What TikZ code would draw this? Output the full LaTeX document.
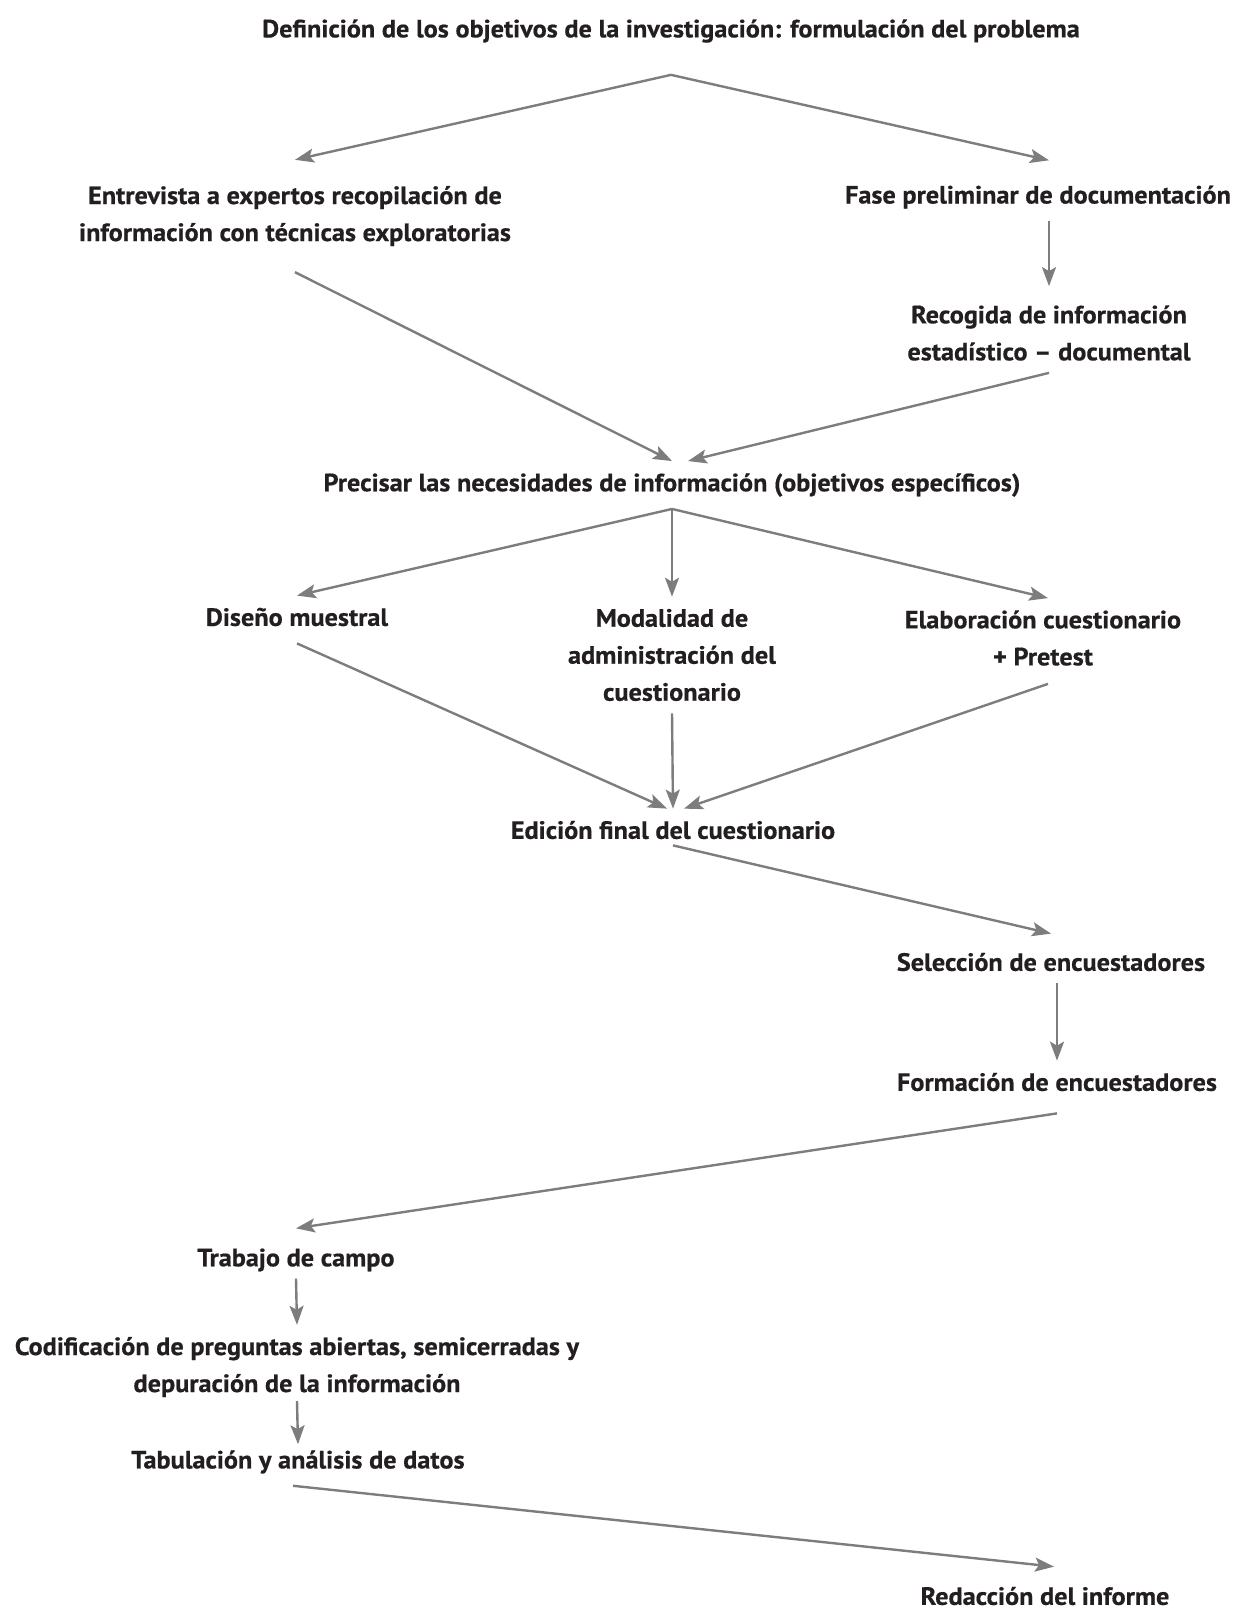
\documentclass[tikz,border=0pt]{standalone}
\usepackage{fontspec}
\setmainfont{PT Sans}[FakeStretch=1.05, BoldFeatures={FakeBold=0.6}]
\usepackage{tikz}
\usetikzlibrary{arrows.meta}

\definecolor{ink}{RGB}{35,31,32}
\definecolor{arrowgray}{RGB}{125,125,125}

\tikzset{
  step box/.style={align=center, text=ink, inner xsep=0pt, inner ysep=12pt,
    font=\fontsize{25}{37}\selectfont\bfseries},
  flow/.style={draw=arrowgray, line width=2.4pt, -{Stealth[length=19pt,width=14pt,inset=4pt]}}
}

\begin{document}
\begin{tikzpicture}[x=1pt, y=-1pt]
  \useasboundingbox (0,0) rectangle (1240,1611);

  % etapas del proceso
  \node[step box] (obj) at (671, 31) {Definición de los objetivos de la investigación: formulación del problema};
  \node[step box] (expert) at (295, 216) {Entrevista a expertos recopilación de\\información con técnicas exploratorias};
  \node[step box] (docu) at (1038, 197) {Fase preliminar de documentación};
  \node[step box] (recog) at (1049, 333) {Recogida de información\\estadístico -- documental};
  \node[step box] (needs) at (672, 485) {Precisar las necesidades de información (objetivos específicos)};

  \node[step box] (sample) at (297, 617) {Diseño muestral};
  \node[step box] (modal) at (672, 655) {Modalidad de\\administración del\\cuestionario};
  \node[step box] (quest) at (1043, 638) {Elaboración cuestionario\\+ Pretest};
  \node[step box] (edit) at (673, 830) {Edición final del cuestionario};

  \node[step box] (select) at (1051, 962) {Selección de encuestadores};
  \node[step box] (train) at (1057, 1082) {Formación de encuestadores};
  \node[step box] (field) at (296, 1260) {Trabajo de campo};
  \node[step box] (coding) at (297, 1367) {Codificación de preguntas abiertas, semicerradas y\\depuración de la información};
  \node[step box] (tab) at (298, 1462) {Tabulación y análisis de datos};
  \node[step box] (report) at (1045, 1596) {Redacción del informe};

  % flechas
  \draw[flow] ([yshift=-20pt]obj.south) -- ([yshift=14pt]expert.north);
  \draw[flow] ([yshift=-20pt]obj.south) -- ([xshift=11pt, yshift=13pt]docu.north);
  \draw[flow] ([xshift=11pt]docu.south) -- ([yshift=7pt]recog.north);
  \draw[flow] ([yshift=-14pt]expert.south) -- (needs.north);
  \draw[flow] (recog.south) -- ([xshift=16pt]needs.north);

  \draw[flow] (needs.south) -- (sample.north);
  \draw[flow] (needs.south) -- (modal.north);
  \draw[flow] (needs.south) -- ([xshift=5pt]quest.north);
  \draw[flow] ([yshift=-5pt]sample.south) -- ([xshift=-6pt]edit.north);
  \draw[flow] (modal.south) -- (edit.north);
  \draw[flow] ([xshift=5pt, yshift=-6pt]quest.south) -- ([xshift=11pt]edit.north);

  \draw[flow] ([yshift=6pt]edit.south) -- ([yshift=7pt]select.north);
  \draw[flow] ([xshift=6pt]select.south) -- (train.north);
  \draw[flow] ([yshift=-10pt]train.south) -- ([yshift=8pt]field.north);
  \draw[flow] ([yshift=5pt]field.south) -- (coding.north);
  \draw[flow] ([yshift=8pt]coding.south) -- ([yshift=-6pt]tab.north);
  \draw[flow] ([xshift=-5pt]tab.south) -- ([xshift=9pt, yshift=8pt]report.north);
\end{tikzpicture}
\end{document}
